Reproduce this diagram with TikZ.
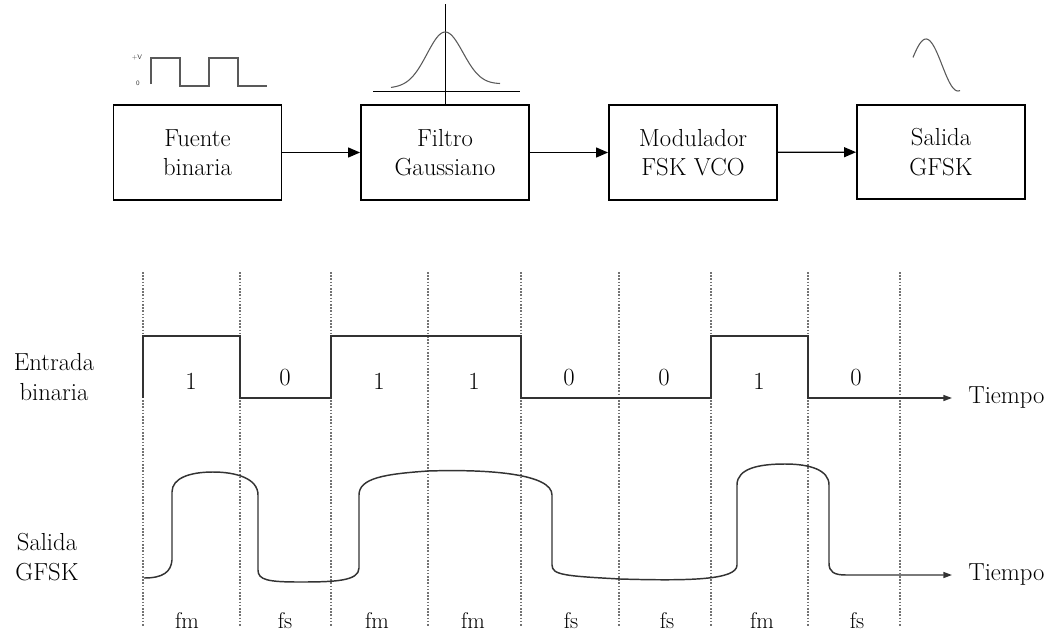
\documentclass[tikz,border=0pt]{standalone}
\usetikzlibrary{arrows.meta}
\begin{document}
\begin{tikzpicture}[x=0.75pt,y=-0.75pt,
  blk/.style={draw=black, line width=1.4pt, minimum width=126pt, minimum height=71pt, align=center, inner sep=0pt, font=\fontsize{18.5}{22}\selectfont},
  flow/.style={-{Triangle[length=9pt,width=7.5pt]}, line width=0.9pt},
  wave/.style={draw=black!80, line width=1.1pt, -{Triangle[length=6.5pt,width=4.5pt]}},
  gridl/.style={draw=black!55, line width=0.9pt, dash pattern=on 1.2pt off 1.2pt},
  lbl/.style={font=\fontsize{18.5}{22}\selectfont, align=center, inner sep=0pt},
  flbl/.style={font=\fontsize{17}{20}\selectfont, inner sep=0pt, anchor=base},
  icon/.style={draw=black!65, line width=0.8pt},
  axis/.style={draw=black, line width=0.7pt},
  tiny/.style={font=\sffamily\fontsize{5}{6}\selectfont, inner sep=0pt, text=black!80},
]
\useasboundingbox (0,0) rectangle (1056,632);

% ---------- block diagram ----------
\node[blk] (src) at (197.5,152.5) {Fuente\\binaria};
\node[blk] (gf)  at (445,152.5) {Filtro\\Gaussiano};
\node[blk] (mod) at (693,152.5) {Modulador\\FSK VCO};
\node[blk] (out) at (941,152) {Salida\\GFSK};
\draw[flow] (src) -- (gf);
\draw[flow] (gf) -- (mod);
\draw[flow] (mod) -- (out);

% square wave icon
\node[tiny] (pv) at (137,58) {+V};
\node[tiny] (zv) at (138,83) {0};
\draw[icon] (151,84) -- (151,58) -- (180,58) -- (180,86) -- (209,86) -- (209,58) -- (238,58) -- (238,86) -- (267,86);

% gaussian icon
\draw[axis] (373,91) -- (520,91);
\draw[axis] (gf.north) -- ++(0,-100);
\draw[icon] plot[domain=391:500, samples=100, smooth] (\x, {88-4*(\x-391)/109-54*exp(-((\x-445)/18)^2/2)});

% sine icon
\draw[icon] plot[domain=913:960, samples=50, smooth] (\x, {65-26*cos(360*(\x-926)/64)});

% ---------- timing diagram ----------
\foreach \gx in {143,240,331,428,521,619,711,808,900}
  \draw[gridl] (\gx,272) -- (\gx,627);

\node[lbl] (inlbl) at (54,377) {Entrada\\binaria};
\node[lbl] (outlbl) at (47,557) {Salida\\GFSK};
\node[lbl, anchor=west] (t1) at (968,398) {Tiempo};
\node[lbl, anchor=west] (t2) at (968,575) {Tiempo};

\draw[wave, shorten >=12pt] (143,398) -- (143,336) -- (240,336) -- (240,398) -- (331,398) -- (331,336)
  -- (521,336) -- (521,398) -- (711,398) -- (711,336) -- (808,336) -- (808,398) -- (t1.west);

\foreach \bx/\bv/\by in {191/1/381, 285/0/378, 379/1/381, 474/1/381, 569/0/378, 664/0/378, 759/1/381, 856/0/378}
  \node[lbl] (b\bx) at (\bx,\by) {\bv};

\draw[wave, shorten >=12pt] (144,578) .. controls (163,578) and (171,572) .. (172,560)
  -- (172,492) .. controls (172,478) and (190,472) .. (213,472)
  .. controls (235,472) and (258,478) .. (258,495)
  -- (258,570) .. controls (258,580) and (268,582) .. (300,582)
  .. controls (335,582) and (359,581) .. (359,568)
  -- (359,495) .. controls (359,478) and (385,474) .. (428,471)
  .. controls (490,469) and (552,474) .. (552,495)
  -- (552,565) .. controls (552,575) and (565,576) .. (620,579)
  .. controls (690,581) and (737,580) .. (737,565)
  -- (737,485) .. controls (737,468) and (760,464) .. (785,464)
  .. controls (810,464) and (829,470) .. (829,485)
  -- (829,563) .. controls (829,572) and (834,575) .. (846,575)
  -- (t2.west);

\foreach \fx/\fv in {187/fm, 285/fs, 377/fm, 473/fm, 571/fs, 667/fs, 762/fm, 857/fs}
  \node[flbl] (f\fx) at (\fx,628) {\fv};
\end{tikzpicture}
\end{document}
